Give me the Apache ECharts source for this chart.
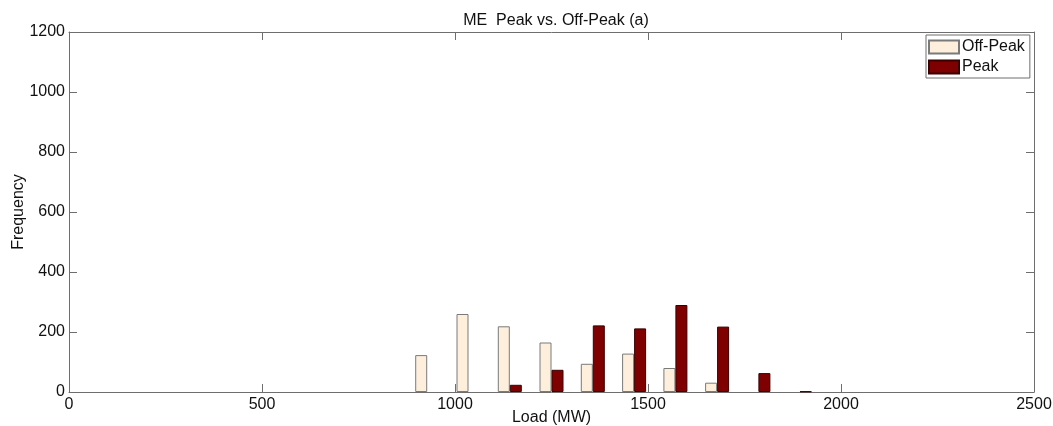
<!DOCTYPE html>
<html>
<head>
<meta charset="utf-8">
<script src="https://cdn.jsdelivr.net/npm/echarts@6/dist/echarts.min.js"></script>
<style>
  html, body { margin: 0; padding: 0; background: #fff; }
  #chart { width: 1053px; height: 426px; }
</style>
</head>
<body>
<div id="chart"></div>
<script>
// Histogram bin centres (MW) and counts per bin
const binCenters = [928, 1035, 1142, 1250, 1357, 1464, 1571, 1679, 1786, 1893];
const offPeakCounts = [123, 260, 219, 165, 94, 128, 80, 31, 0, 0];
const peakCounts = [0, 0, 24, 74, 222, 212, 290, 218, 63, 2];
const xTicks = [0, 500, 1000, 1500, 2000, 2500];
const yTicks = [0, 200, 400, 600, 800, 1000, 1200];

const font = 'Liberation Sans, Arial, sans-serif';
const fontSize = 16;
const axisColor = '#6e6e6e';

// empty bins are left out so no zero-height sliver is drawn
const toPairs = (vals) => binCenters.map((c, i) => [c, vals[i] === 0 ? null : vals[i]]);

const chart = echarts.init(document.getElementById('chart'), null, { renderer: 'canvas' });

const lineStyle = { color: axisColor, width: 1 };
const tickStyle = { show: true, inside: true, length: 8, lineStyle: { color: axisColor } };
const labelStyle = { fontFamily: font, fontSize: fontSize, color: '#111', formatter: (v) => String(v) };

chart.setOption({
  animation: false,
  backgroundColor: '#ffffff',
  title: {
    text: 'ME  Peak vs. Off-Peak (a)',
    left: 551, top: 8, textAlign: 'center',
    textStyle: { fontFamily: font, fontSize: fontSize, fontWeight: 'normal', color: '#111' }
  },
  legend: {
    left: 926, top: 35,
    orient: 'vertical',
    icon: 'rect',
    itemWidth: 30, itemHeight: 13, itemGap: 4,
    padding: [4, 5, 3, 2],
    borderColor: axisColor, borderWidth: 1,
    backgroundColor: '#fff',
    textStyle: { fontFamily: font, fontSize: fontSize, color: '#111', padding: [0, 0, 0, -2] },
    data: ['Off-Peak', 'Peak']
  },
  grid: { left: 69, right: 19, top: 32, bottom: 34, outerBoundsMode: 'none' },
  xAxis: [{
    type: 'value', min: xTicks[0], max: xTicks[xTicks.length - 1], interval: 500,
    name: 'Load (MW)', nameLocation: 'middle', nameGap: 18, nameMoveOverlap: false,
    nameTextStyle: { fontFamily: font, fontSize: fontSize, color: '#111', verticalAlign: 'top' },
    axisLine: { show: true, onZero: false, lineStyle: lineStyle },
    axisTick: tickStyle,
    axisLabel: Object.assign({ margin: 5 }, labelStyle),
    splitLine: { show: false }
  }, {
    type: 'value', position: 'top', min: 0, max: 2500, interval: 500,
    axisLine: { show: true, onZero: false, lineStyle: lineStyle },
    axisTick: tickStyle,
    axisLabel: { show: false },
    splitLine: { show: false }
  }],
  yAxis: [{
    type: 'value', min: yTicks[0], max: yTicks[yTicks.length - 1], interval: 200,
    name: 'Frequency', nameLocation: 'middle', nameGap: 42, nameRotate: 90, nameMoveOverlap: false,
    nameTextStyle: { fontFamily: font, fontSize: fontSize, color: '#111' },
    axisLine: { show: true, onZero: false, lineStyle: lineStyle },
    axisTick: tickStyle,
    axisLabel: Object.assign({ margin: 4 }, labelStyle),
    splitLine: { show: false }
  }, {
    type: 'value', position: 'right', min: 0, max: 1200, interval: 200,
    axisLine: { show: true, onZero: false, lineStyle: lineStyle },
    axisTick: tickStyle,
    axisLabel: { show: false },
    splitLine: { show: false }
  }],
  series: [{
    name: 'Off-Peak', type: 'bar',
    data: toPairs(offPeakCounts),
    barWidth: 12, barGap: '0%',
    itemStyle: { color: '#fdefdc', borderColor: '#7a7a7a', borderWidth: 1 }
  }, {
    name: 'Peak', type: 'bar',
    data: toPairs(peakCounts),
    barWidth: 12, barGap: '0%',
    itemStyle: { color: '#7f0000', borderColor: '#3a0000', borderWidth: 1 }
  }]
});
</script>
</body>
</html>
